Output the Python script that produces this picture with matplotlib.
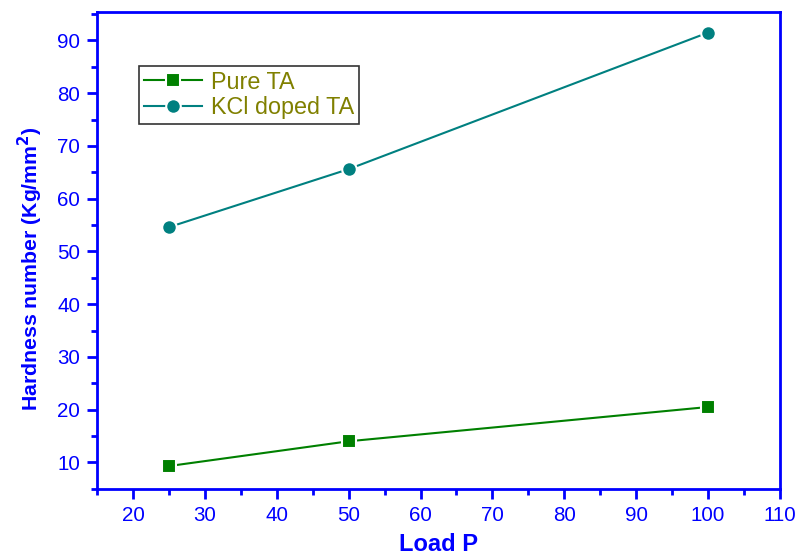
import numpy as np
import matplotlib.pyplot as plt
from matplotlib.ticker import MultipleLocator

load = [25, 50, 100]
pure_ta = [9.3, 14.0, 20.5]
kcl_ta = [54.6, 65.6, 91.5]

blue = "#0000FF"

plt.rcParams['font.family'] = ['Liberation Sans', 'DejaVu Sans']

fig = plt.figure(figsize=(7.99, 5.57), dpi=100)
ax = fig.add_axes([97 / 799, 1 - 489 / 557, (780 - 97) / 799, (489 - 12) / 557])

ax.plot(load, pure_ta, color="#008000", marker="s", markersize=9.5, lw=1.5,
        markeredgecolor="white", markeredgewidth=1.5, label="Pure TA")
ax.plot(load, kcl_ta, color="#008080", marker="o", markersize=10.5, lw=1.5,
        markeredgecolor="white", markeredgewidth=1.5, label="KCl doped TA")

ax.set_xlim(15, 110)
ax.set_ylim(4.95, 95.4)
ax.xaxis.set_major_locator(MultipleLocator(10))
ax.xaxis.set_minor_locator(MultipleLocator(5))
ax.yaxis.set_major_locator(MultipleLocator(10))
ax.yaxis.set_minor_locator(MultipleLocator(5))

for s in ax.spines.values():
    s.set_color(blue)
    s.set_linewidth(2)
ax.tick_params(which="both", direction="out", colors=blue, width=2,
               top=False, right=False, labelsize=14.8)
ax.tick_params(which="major", length=7, pad=5)
ax.tick_params(which="minor", length=4)

ax.set_xlabel("Load P", color=blue, fontsize=17, fontweight="bold", labelpad=6)
ax.set_ylabel("Hardness number (Kg/mm$^\\mathbf{2}$)", color=blue, fontsize=15.3,
              fontweight="bold")
ax.yaxis.set_label_coords(-0.076, 0.462)

leg = ax.legend(loc="upper left", bbox_to_anchor=(0.0615, 0.887), fontsize=16.8,
                frameon=True, fancybox=False, handlelength=2.5, borderaxespad=0,
                borderpad=0.2, labelspacing=0.1, handletextpad=0.4)
leg.get_frame().set_edgecolor("black")
leg.get_frame().set_linewidth(1.2)
for t in leg.get_texts():
    t.set_color("#808000")

fig.savefig("out.png", dpi=100)
